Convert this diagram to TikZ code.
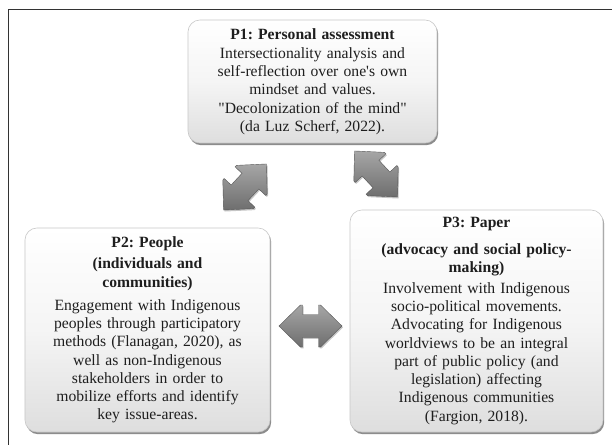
\documentclass[tikz,border=0pt]{standalone}
\usepackage{fontspec}
\setmainfont{Liberation Serif}
\frenchspacing
\usetikzlibrary{shadows,calc}
\definecolor{txt}{HTML}{1E1E1E}
\definecolor{boxedge}{HTML}{C8C8C8}
\definecolor{boxbot}{HTML}{DEDEDE}
\definecolor{arrtop}{HTML}{A6A6A6}
\definecolor{arrbot}{HTML}{6E6E6E}
\tikzset{
  card/.style={draw=boxedge, line width=0.6pt, rounded corners=12pt,
    top color=white, bottom color=boxbot, middle color=white!96!black,
    drop shadow={shadow xshift=1.2pt, shadow yshift=-2.2pt, opacity=0.6, fill=black!75},
    inner sep=0pt, align=center, text=txt,
    font=\fontsize{15.7}{18.3}\selectfont},
  arrowshape/.style={draw=arrbot!80!black, line width=0.4pt, top color=arrtop, bottom color=arrbot,
    drop shadow={shadow xshift=1pt, shadow yshift=-1.5pt, opacity=0.45}},
  frameline/.style={draw=black!80, line width=1.4pt}
}
\begin{document}
\begin{tikzpicture}[x=1bp,y=-1bp]
\useasboundingbox (0,0) rectangle (612,445);
\fill[white] (0,0) rectangle (612,445);
% frame
\coordinate (ftl) at (8.5,9.5);
\coordinate (ftr) at (612,9.5);
\coordinate (fbl) at (8.5,445);
\draw[frameline] (ftr) -- (ftl) -- (fbl);
% boxes
\node[card, minimum width=249bp, minimum height=123bp, text width=240bp] (p1) at (312.5,81.5)
 {\textbf{P1: Personal assessment}\\[1pt]
  Intersectionality analysis and\\
  self-reflection over one\textquotesingle s own\\
  mindset and values.\\
  \textquotedbl Decolonization of the mind\textquotedbl\\
  (da Luz Scherf, 2022).};
\node[card, minimum width=245bp, minimum height=204bp, text width=240bp] (p2) at (147.5,330)
 {\textbf{P2: People}\\[3pt]
  \textbf{(individuals and}\\
  \textbf{communities)}\\[5pt]
  Engagement with Indigenous\\
  peoples through participatory\\
  methods (Flanagan, 2020), as\\
  well as non-Indigenous\\
  stakeholders in order to\\
  mobilize efforts and identify\\
  key issue-areas.};
\node[card, minimum width=253bp, minimum height=222bp, text width=248bp] (p3) at (476.5,321)
 {\textbf{P3: Paper}\\[8pt]
  \textbf{(advocacy and social policy-}\\
  \textbf{making)}\\[3pt]
  Involvement with Indigenous\\
  socio-political movements.\\
  Advocating for Indigenous\\
  worldviews to be an integral\\
  part of public policy (and\\
  legislation) affecting\\
  Indigenous communities\\
  (Fargion, 2018).};
% double arrows
\newcommand{\dblarrowpath}{(-31.5,0) -- (-10,-21) -- (-8,-21) -- (-8,-11.5) -- (8,-11.5) -- (8,-21) -- (10,-21) -- (31.5,0) -- (10,21) -- (8,21) -- (8,11.5) -- (-8,11.5) -- (-8,21) -- (-10,21) -- cycle}
\coordinate (a12) at (245,187);
\coordinate (a13) at (376,174);
\coordinate (a23) at (310.5,326);
\begin{scope}[shift={(a12)}, rotate=47]
  \path[arrowshape] \dblarrowpath;
\end{scope}
\begin{scope}[shift={(a13)}, rotate=-47]
  \path[arrowshape] \dblarrowpath;
\end{scope}
\begin{scope}[shift={(a23)}]
  \path[arrowshape] \dblarrowpath;
\end{scope}
\end{tikzpicture}
\end{document}
